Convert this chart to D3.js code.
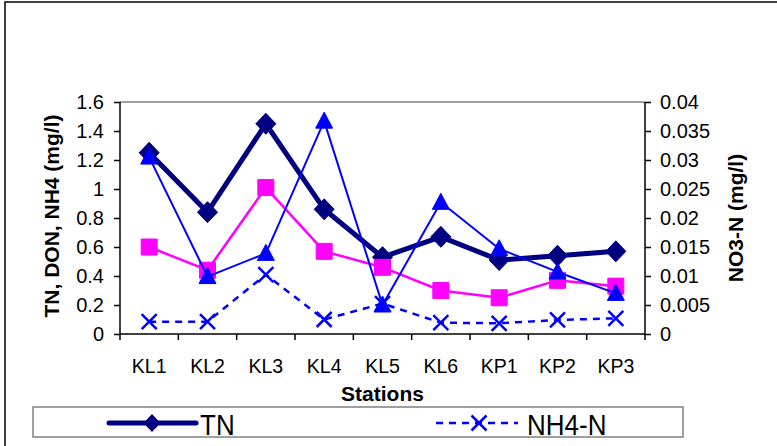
<!DOCTYPE html>
<html>
<head>
<meta charset="utf-8">
<script src="https://cdn.jsdelivr.net/npm/d3@7"></script>
<style>
  body { margin: 0; background: #fff; }
  svg text { font-family: "Liberation Sans", Arial, sans-serif; fill: #000; }
  .axis path, .axis line { stroke: #000; stroke-width: 1.5; }
</style>
</head>
<body>
<svg id="chart" width="777" height="446"></svg>
<script>
// stations along the x axis
var stations = ["KL1", "KL2", "KL3", "KL4", "KL5", "KL6", "KP1", "KP2", "KP3"];

// left axis series (mg/l)
var tn    = [1.25, 0.84, 1.45, 0.86, 0.53, 0.67, 0.51, 0.54, 0.57];
var don   = [0.60, 0.44, 1.01, 0.57, 0.46, 0.30, 0.25, 0.37, 0.33];
var nh4   = [0.085, 0.085, 0.41, 0.10, 0.21, 0.078, 0.074, 0.097, 0.108];

// right axis series (mg/l)
var no3   = [0.0305, 0.0099, 0.0139, 0.0367, 0.0050, 0.0227, 0.0147, 0.0107, 0.0070];

var leftTicks  = [0, 0.2, 0.4, 0.6, 0.8, 1, 1.2, 1.4, 1.6];
var rightTicks = [0, 0.005, 0.01, 0.015, 0.02, 0.025, 0.03, 0.035, 0.04];

var margin = {top: 102, left: 120, right: 132, bottom: 112},
    W = 777, H = 446,
    w = W - margin.left - margin.right,
    h = H - margin.top - margin.bottom;

var svg = d3.select("#chart");

// outer chart frame (cut by the picture on the right and bottom)
svg.append("rect")
   .attr("x", 5).attr("y", 2)
   .attr("width", 900).attr("height", 600)
   .attr("fill", "none")
   .attr("stroke", "#000")
   .attr("stroke-width", 1.5);

var g = svg.append("g")
   .attr("transform", "translate(" + margin.left + "," + margin.top + ")");

var xScale = d3.scaleBand().domain(stations).range([0, w]).padding(0);
var xMid = function(d, i) { return xScale(stations[i]) + xScale.bandwidth() / 2; };

var yLeft = d3.scaleLinear().domain([0, 1.6]).range([h, 0]);
var yRight = d3.scaleLinear().domain([0, 0.04]).range([h, 0]);

// plot area top border
g.append("line")
   .attr("x1", 0).attr("x2", w).attr("y1", 0).attr("y2", 0)
   .attr("stroke", "#808080").attr("stroke-width", 1.5);

// left axis
var yAxisL = d3.axisLeft(yLeft).tickValues(leftTicks).tickSize(6).tickPadding(10)
   .tickFormat(function(d) { return d3.format("")(+d.toFixed(2)); });
g.append("g").attr("class", "axis").call(yAxisL)
   .call(function(s) { s.select(".domain").attr("d", "M0,0V" + h); })
   .selectAll("text").style("font-size", "20px");

// right axis
var yAxisR = d3.axisRight(yRight).tickValues(rightTicks).tickSize(6).tickPadding(9)
   .tickFormat(function(d) { return d3.format("")(+d.toFixed(3)); });
g.append("g").attr("class", "axis")
   .attr("transform", "translate(" + w + ",0)")
   .call(yAxisR)
   .call(function(s) { s.select(".domain").attr("d", "M0,0V" + h); })
   .selectAll("text").style("font-size", "20px");

// bottom axis: ticks on category boundaries
var xAxis = d3.axisBottom(xScale).tickSize(0).tickPadding(25);
var xg = g.append("g").attr("class", "axis")
   .attr("transform", "translate(0," + h + ")")
   .call(xAxis);
xg.select(".domain").attr("d", "M0,0H" + w);
xg.selectAll("text").style("font-size", "19.5px");
var bounds = d3.range(stations.length + 1).map(function(i) { return i * xScale.step(); });
xg.selectAll(".bound").data(bounds).enter().append("line")
   .attr("class", "bound")
   .attr("x1", function(d) { return d; }).attr("x2", function(d) { return d; })
   .attr("y1", 0).attr("y2", 6)
   .attr("stroke", "#000").attr("stroke-width", 1.5);

// axis titles
svg.append("text")
   .attr("transform", "translate(51," + (margin.top + h / 2 - 2) + ")rotate(-90)")
   .attr("text-anchor", "middle")
   .attr("dominant-baseline", "central")
   .style("font-size", "21px").style("font-weight", "bold")
   .text("TN, DON, NH4 (mg/l)");

svg.append("text")
   .attr("transform", "translate(735," + (margin.top + h / 2) + ")rotate(-90)")
   .attr("text-anchor", "middle")
   .attr("dominant-baseline", "central")
   .style("font-size", "21px").style("font-weight", "bold")
   .text("NO3-N (mg/l)");

svg.append("text")
   .attr("x", margin.left + w / 2)
   .attr("y", 401)
   .attr("text-anchor", "middle")
   .style("font-size", "21px").style("font-weight", "bold")
   .text("Stations");

// marker shapes
var diamond = "M0,-10.5L10,0L0,10.5L-10,0Z";
var square = "M-8,-8H8V8H-8Z";
var triangle = "M0,-9L8.5,7H-8.5Z";
var cross = "M-7.5,-7.5L7.5,7.5M-7.5,7.5L7.5,-7.5";

function drawSeries(vals, y, color, width, dash, sym, markerFill) {
  var line = d3.line().x(xMid).y(function(d) { return y(d); });
  g.append("path").datum(vals)
     .attr("d", line)
     .attr("fill", "none")
     .attr("stroke", color)
     .attr("stroke-width", width)
     .attr("stroke-dasharray", dash)
     .attr("stroke-linejoin", "round");
  g.selectAll(null).data(vals).enter().append("path")
     .attr("transform", function(d, i) { return "translate(" + xMid(d, i) + "," + y(d) + ")"; })
     .attr("d", sym)
     .attr("fill", markerFill ? color : "none")
     .attr("stroke", color)
     .attr("stroke-width", markerFill ? 1 : 2.5);
}

drawSeries(tn, yLeft, "#000080", 5, null, diamond, true);
drawSeries(don, yLeft, "#ff00ff", 2.5, null, square, true);
drawSeries(nh4, yLeft, "#0000ff", 2.5, "7,6", cross, false);
drawSeries(no3, yRight, "#0000ff", 2, null, triangle, true);

// legend
var leg = svg.append("g");
leg.append("rect")
   .attr("x", 33).attr("y", 407).attr("width", 650).attr("height", 30)
   .attr("fill", "#fff").attr("stroke", "#808080").attr("stroke-width", 1.5);

leg.append("line")
   .attr("x1", 109).attr("x2", 196).attr("y1", 423).attr("y2", 423)
   .attr("stroke", "#000080").attr("stroke-width", 5)
   .attr("stroke-linecap", "round");
leg.append("path")
   .attr("transform", "translate(152,423)")
   .attr("d", "M0,-9L8.5,0L0,9L-8.5,0Z").attr("fill", "#000080");
leg.append("text")
   .attr("x", 200).attr("y", 435)
   .attr("transform", "translate(0,-43.5)scale(1,1.1)")
   .style("font-size", "26px")
   .text("TN");

leg.append("line")
   .attr("x1", 436).attr("x2", 518).attr("y1", 423).attr("y2", 423)
   .attr("stroke", "#0000ff").attr("stroke-width", 2.5)
   .attr("stroke-dasharray", "7,6");
leg.append("path")
   .attr("transform", "translate(479,423)")
   .attr("d", cross).attr("fill", "none")
   .attr("stroke", "#0000ff").attr("stroke-width", 2.5);
leg.append("text")
   .attr("x", 527).attr("y", 435)
   .attr("transform", "translate(0,-43.5)scale(1,1.1)")
   .style("font-size", "26px")
   .text("NH4-N");
</script>
</body>
</html>
